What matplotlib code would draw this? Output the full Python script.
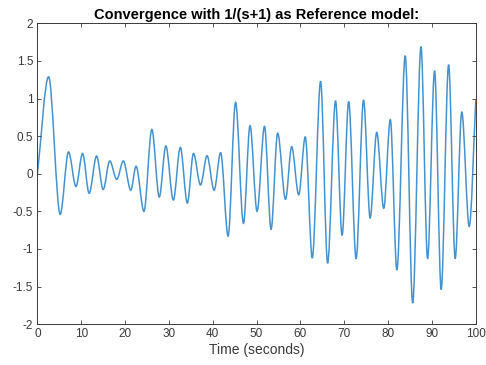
import matplotlib
matplotlib.use("Agg")
import matplotlib.pyplot as plt
from matplotlib.path import Path
from matplotlib.patches import PathPatch

# turning points of the response (time in s, value)
t_pts = [0.0, 2.55, 5.2, 7.1, 8.8, 10.3, 11.8, 13.5, 15.0, 16.5, 18.1, 19.6,
         21.3, 22.5, 24.3, 26.1, 27.8, 29.3, 31.0, 32.6, 34.2, 35.6, 37.2,
         38.7, 40.3, 41.8, 43.5, 45.2, 47.0, 48.5, 50.1, 51.8, 53.3, 54.8,
         56.6, 58.0, 59.6, 61.1, 62.7, 64.6, 66.2, 68.0, 69.5, 71.0, 72.7,
         74.4, 75.9, 77.4, 79.0, 80.5, 82.0, 83.9, 85.6, 87.5, 89.0, 90.6,
         92.1, 93.8, 95.3, 96.8, 98.5, 100.0]
v_pts = [0.0, 1.29, -0.54, 0.29, -0.17, 0.27, -0.26, 0.235, -0.21, 0.17, -0.075, 0.17,
         -0.22, 0.10, -0.50, 0.59, -0.31, 0.37, -0.35, 0.35, -0.39, 0.27, -0.15,
         0.24, -0.22, 0.28, -0.83, 0.95, -0.66, 0.64, -0.50, 0.63, -0.74, 0.54,
         -0.34, 0.36, -0.28, 0.49, -1.12, 1.23, -1.19, 0.97, -0.82, 0.96, -1.13,
         0.98, -0.59, 0.55, -0.46, 0.72, -1.28, 1.57, -1.72, 1.69, -1.13, 1.37,
         -1.54, 1.45, -1.13, 0.82, -0.70, 0.98]

title = "Convergence with 1/(s+1) as Reference model:"
xlabel = "Time (seconds)"

# slopes: flat at the turning points, straight toward the neighbour at the ends
n = len(t_pts)
slope = [0.0] * n
slope[0] = (v_pts[1] - v_pts[0]) / (t_pts[1] - t_pts[0])
slope[-1] = (v_pts[-1] - v_pts[-2]) / (t_pts[-1] - t_pts[-2])

verts = [(t_pts[0], v_pts[0])]
codes = [Path.MOVETO]
for i in range(n - 1):
    dt = t_pts[i + 1] - t_pts[i]
    verts += [(t_pts[i] + dt / 3, v_pts[i] + slope[i] * dt / 3),
              (t_pts[i + 1] - dt / 3, v_pts[i + 1] - slope[i + 1] * dt / 3),
              (t_pts[i + 1], v_pts[i + 1])]
    codes += [Path.CURVE4] * 3

plt.rcParams['font.family'] = ['Liberation Sans', 'DejaVu Sans']

fig = plt.figure(figsize=(4.86, 3.65), dpi=100)
ax = fig.add_axes([0.077, 0.112, 0.902, 0.824])
ax.add_patch(PathPatch(Path(verts, codes), fill=False, edgecolor='#4493d0', lw=1.1))

ax.set_xlim(0, 100)
ax.set_ylim(-2, 2)
ax.set_xticks(range(0, 101, 10))
ax.set_yticks([-2, -1.5, -1, -0.5, 0, 0.5, 1, 1.5, 2])
ax.set_yticklabels(['-2', '-1.5', '-1', '-0.5', '0', '0.5', '1', '1.5', '2'])
ax.tick_params(direction='in', top=True, right=True, length=3, width=0.6,
               labelsize=8.5, colors='#3a3a3a', pad=3)
for s in ax.spines.values():
    s.set_color('#3a3a3a')
    s.set_linewidth(0.7)

ax.set_title(title, fontsize=10.5, fontweight='bold', pad=3)
ax.set_xlabel(xlabel, fontsize=10, color='#3a3a3a', labelpad=2)

fig.savefig('out.png', dpi=100)
